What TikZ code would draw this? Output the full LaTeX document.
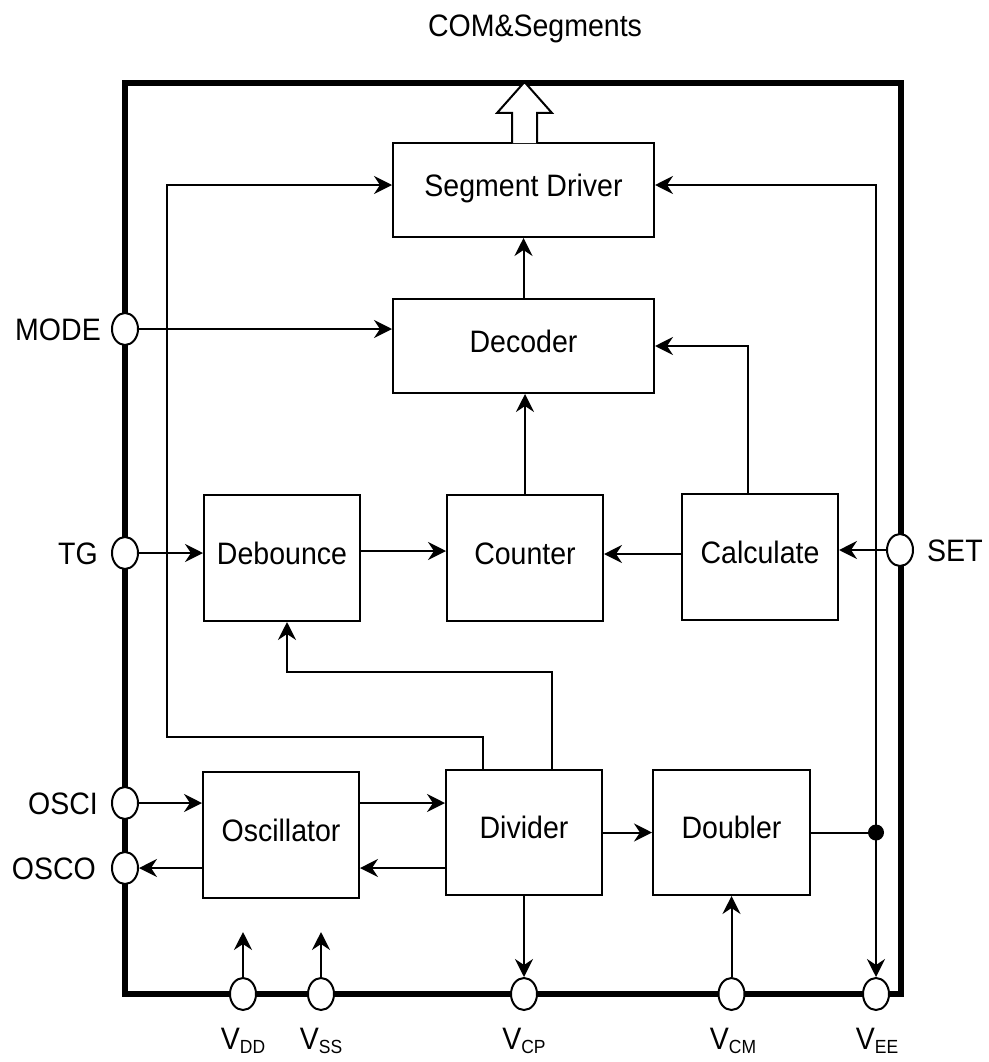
\documentclass[tikz,border=0pt]{standalone}
\usepackage{fontspec}
\setmainfont[FakeStretch=0.92]{Liberation Sans}
\usetikzlibrary{arrows.meta,shapes.geometric}
\newcommand\vsub[1]{V\raisebox{-4pt}{\fontsize{19}{19}\selectfont #1}}
\begin{document}
\begin{tikzpicture}[x=1pt,y=-1pt,
  txt/.style={font=\fontsize{31}{34}\selectfont},
  blk/.style={txt,draw,line width=2pt,inner sep=0pt,text height=20pt,text depth=8pt,fill=white},
  pin/.style={draw,fill=white,ellipse,minimum width=26pt,minimum height=32pt,inner sep=0pt,line width=2pt},
  plab/.style={txt,inner sep=0pt,text height=22pt,text depth=0pt},
  wire/.style={line width=2pt},
  arr/.style={wire,-{Stealth[length=18pt,width=18pt,inset=6pt]}},
  frame/.style={line width=6pt},
  hollow/.style={line width=2pt,fill=white,line join=miter}]
\useasboundingbox (0,0) rectangle (988,1062);
\fill[white] (0,0) rectangle (988,1062);
% outer frame
\draw[frame] (125,83) rectangle (901,993.5);
% blocks
\node[blk,minimum width=261pt,minimum height=94pt] (seg) at (523.5,190) {Segment Driver};
\node[blk,minimum width=261pt,minimum height=94pt] (dec) at (523.5,346) {Decoder};
\node[blk,minimum width=156pt,minimum height=126pt] (deb) at (282,558) {Debounce};
\node[blk,minimum width=156pt,minimum height=126pt] (cnt) at (525,558) {Counter};
\node[blk,minimum width=156pt,minimum height=126pt] (calc) at (760,557) {Calculate};
\node[blk,minimum width=156pt,minimum height=126pt] (osc) at (281,835) {Oscillator};
\node[blk,minimum width=156pt,minimum height=125pt] (div) at (524,832.5) {Divider};
\node[blk,minimum width=157pt,minimum height=125pt] (dbl) at (731.5,832.5) {Doubler};
% hollow output arrow
\draw[hollow] (512,143) -- (512,113) -- (497,113) -- (524.5,82) -- (552,113) -- (537,113) -- (537,143);
\node[txt,anchor=base] (com) at (535,37) {COM\&Segments};
% coordinates
\coordinate (lc) at (167,737);
\coordinate (dc) at (287,672);
\coordinate (j) at (876,832.5);
\coordinate (vddt) at (243,932);
\coordinate (vsst) at (321,932);
% connectors
\draw[arr] ([xshift=-41pt]div.north) |- (lc) |- ([yshift=5pt]seg.west);
\draw[arr] ([xshift=28pt]div.north) |- (dc) -- (dc |- deb.south);
\draw[arr] (dec.north) -- (seg.south);
\draw[arr] (cnt.north) -- (cnt.north |- dec.south);
\draw[arr] ([xshift=-12pt]calc.north) |- (dec.east);
\draw[arr] ([yshift=7pt]deb.east) -- ([yshift=7pt]deb.east -| cnt.west);
\draw[arr] ([yshift=3pt]calc.west) -- ([yshift=3pt]calc.west -| cnt.east);
\draw[arr] (div.east) -- (dbl.west);
\draw[wire] (dbl.east) -- (j);
\draw[arr] (j) |- ([yshift=5pt]seg.east);
\fill (j) circle (8pt);
% pins
\node[pin] (mode) at (125,329) {};
\node[pin] (tg) at (125,553) {};
\node[pin] (osci) at (125,803) {};
\node[pin] (osco) at (125,868) {};
\node[pin] (set) at (900,550) {};
\node[pin] (vdd) at (243,994) {};
\node[pin] (vss) at (321,994) {};
\node[pin] (vcp) at (524,994) {};
\node[pin] (vcm) at (731.5,994) {};
\node[pin] (vee) at (876,994) {};
% pin connectors
\draw[arr] (mode) -- (mode -| dec.west);
\draw[arr] (tg) -- (tg -| deb.west);
\draw[arr] (osci) -- (osci -| osc.west);
\draw[arr] (osco -| osc.west) -- (osco);
\draw[arr] (osc.east |- osci) -- (div.west |- osci);
\draw[arr] (div.west |- osco) -- (osc.east |- osco);
\draw[arr] (set) -- (set -| calc.east);
\draw[arr] (j) -- (vee.north);
\draw[arr] (div.south) -- (vcp.north);
\draw[arr] (vcm.north) -- (dbl.south);
\draw[arr] (vdd.north) -- (vddt);
\draw[arr] (vss.north) -- (vsst);
% pin labels
\node[plab,anchor=east] (lmode) at (101,329) {MODE};
\node[plab,anchor=east] (ltg) at (98,553) {TG};
\node[plab,anchor=east] (losci) at (98,803) {OSCI};
\node[plab,anchor=east] (losco) at (96,868) {OSCO};
\node[plab,anchor=west] (lset) at (927,550) {SET};
\node[txt,anchor=base,inner sep=0pt] (lvdd) at (243,1049) {\vsub{DD}};
\node[txt,anchor=base,inner sep=0pt] (lvss) at (321,1049) {\vsub{SS}};
\node[txt,anchor=base,inner sep=0pt] (lvcp) at (524,1049) {\vsub{CP}};
\node[txt,anchor=base,inner sep=0pt] (lvcm) at (733,1049) {\vsub{CM}};
\node[txt,anchor=base,inner sep=0pt] (lvee) at (877,1049) {\vsub{EE}};
\end{tikzpicture}
\end{document}
